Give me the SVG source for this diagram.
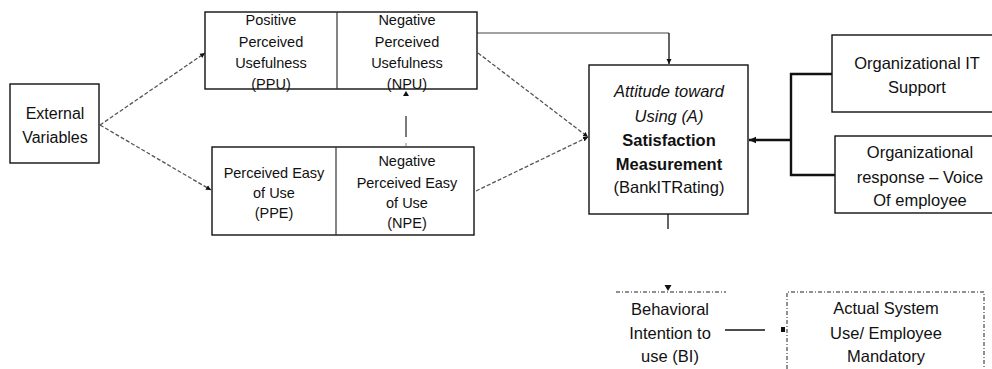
<svg xmlns="http://www.w3.org/2000/svg" width="992" height="369" viewBox="0 0 992 369">
  <style>
    .box { fill: #ffffff; stroke: #111111; stroke-width: 1.4; }
    .div { stroke: #333333; stroke-width: 1.2; }
    .t { font-family: "Liberation Sans", Arial, sans-serif; fill: #111111; text-anchor: middle; }
    .s15 { font-size: 14.5px; }
    .s16 { font-size: 16px; }
    .s17 { font-size: 16.5px; }
    .dash { fill: none; stroke: #555555; stroke-width: 1.3; stroke-dasharray: 4 2; }
    .thin { fill: none; stroke: #444444; stroke-width: 1; }
    .solid { fill: none; stroke: #111111; stroke-width: 1.3; }
    .thick { fill: none; stroke: #111111; stroke-width: 2.4; }
    .dashdot { fill: none; stroke: #222222; stroke-width: 1; stroke-dasharray: 4 2 1 2; }
  </style>
  <defs>
    <marker id="ah" markerWidth="8" markerHeight="8" refX="7" refY="4" orient="auto" markerUnits="userSpaceOnUse">
      <path d="M0,0.8 L7,4 L0,7.2 Z" fill="#111111"/>
    </marker>
    <marker id="ahs" markerWidth="6" markerHeight="6" refX="5" refY="3" orient="auto" markerUnits="userSpaceOnUse">
      <path d="M0,0.5 L5,3 L0,5.5 Z" fill="#111111"/>
    </marker>
  </defs>

  <rect width="992" height="369" fill="#ffffff"/>

  <!-- connectors -->
  <g id="connectors">
    <line class="dash" x1="100" y1="125" x2="205" y2="53" marker-end="url(#ahs)"/>
    <line class="dash" x1="100" y1="125" x2="211" y2="190" marker-end="url(#ahs)"/>
    <line class="dash" x1="478" y1="53" x2="588" y2="137" marker-end="url(#ahs)"/>
    <line class="dash" x1="476" y1="191" x2="588" y2="137" marker-end="url(#ahs)"/>
    <!-- NPE to NPU: faint link, only a middle stroke and the head show -->
    <line x1="406" y1="116" x2="406" y2="137" stroke="#222222" stroke-width="1.2"/>
    <line x1="406" y1="143" x2="406" y2="146" stroke="#888888" stroke-width="1"/>
    <path d="M403,96 L409,96 L406,91 Z" fill="#111111"/>
    <polyline class="thin" points="477,33 669,33"/>
    <line class="solid" x1="669" y1="33" x2="669" y2="64" marker-end="url(#ahs)"/>
    <polyline class="thick" points="832,74 791,74 791,175 835,175"/>
    <line class="thick" x1="791" y1="140" x2="749" y2="140" marker-end="url(#ah)"/>
    <line class="solid" x1="668" y1="214" x2="668" y2="229"/>
    <path d="M664.5,285 L671.5,285 L668,291 Z" fill="#111111"/>
    <line class="solid" x1="725" y1="330" x2="765" y2="330"/>
    <rect x="781" y="327" width="4" height="5" fill="#111111"/>
  </g>

  <!-- External Variables -->
  <g id="external-variables">
    <rect class="box" x="10" y="84" width="89" height="79"/>
    <text class="t s16" x="55" y="119">External</text>
    <text class="t s16" x="55" y="143">Variables</text>
  </g>

  <!-- Perceived usefulness pair -->
  <g id="usefulness">
    <rect class="box" x="205" y="12" width="272" height="77"/>
    <line class="div" x1="337" y1="12" x2="337" y2="89"/>
    <text class="t s15" x="271" y="25">Positive</text>
    <text class="t s15" x="271" y="47">Perceived</text>
    <text class="t s15" x="271" y="68">Usefulness</text>
    <text class="t s15" x="271" y="89">(PPU)</text>
    <text class="t s15" x="407" y="25">Negative</text>
    <text class="t s15" x="407" y="47">Perceived</text>
    <text class="t s15" x="407" y="68">Usefulness</text>
    <text class="t s15" x="407" y="89">(NPU)</text>
  </g>

  <!-- Perceived ease of use pair -->
  <g id="ease-of-use">
    <rect class="box" x="212" y="147" width="262" height="88"/>
    <line class="div" x1="336" y1="147" x2="336" y2="235"/>
    <text class="t s15" x="274" y="178">Perceived Easy</text>
    <text class="t s15" x="274" y="198">of Use</text>
    <text class="t s15" x="274" y="218">(PPE)</text>
    <text class="t s15" x="407" y="166">Negative</text>
    <text class="t s15" x="407" y="188">Perceived Easy</text>
    <text class="t s15" x="407" y="208">of Use</text>
    <text class="t s15" x="407" y="228">(NPE)</text>
  </g>

  <!-- Attitude / satisfaction -->
  <g id="attitude">
    <rect class="box" x="589" y="65" width="159" height="149" stroke-width="1"/>
    <text class="t s17" x="669" y="97" font-style="italic">Attitude toward</text>
    <text class="t s17" x="669" y="122" font-style="italic">Using (A)</text>
    <text class="t s17" x="669" y="146" font-weight="bold">Satisfaction</text>
    <text class="t s17" x="669" y="170" font-weight="bold">Measurement</text>
    <text class="t s17" x="669" y="193">(BankITRating)</text>
  </g>

  <!-- Organizational IT support -->
  <g id="org-it-support">
    <rect class="box" x="832" y="35" width="170" height="77"/>
    <text class="t s17" x="917" y="69">Organizational IT</text>
    <text class="t s17" x="917" y="93">Support</text>
  </g>

  <!-- Organizational response -->
  <g id="org-response">
    <rect class="box" x="835" y="136" width="167" height="77"/>
    <text class="t s17" x="920" y="158">Organizational</text>
    <text class="t s17" x="920" y="183">response – Voice</text>
    <text class="t s17" x="920" y="206">Of employee</text>
  </g>

  <!-- Behavioral intention -->
  <g id="behavioral-intention">
    <line class="dashdot" x1="616" y1="292" x2="726" y2="292"/>
    <text class="t s17" x="670" y="315">Behavioral</text>
    <text class="t s17" x="670" y="339">Intention to</text>
    <text class="t s17" x="670" y="362">use (BI)</text>
  </g>

  <!-- Actual system use -->
  <g id="actual-use">
    <path class="dashdot" d="M787,369 L787,292 L984,292 L984,369"/>
    <text class="t s17" x="886" y="314">Actual System</text>
    <text class="t s17" x="886" y="339">Use/ Employee</text>
    <text class="t s17" x="886" y="362">Mandatory</text>
  </g>
</svg>
